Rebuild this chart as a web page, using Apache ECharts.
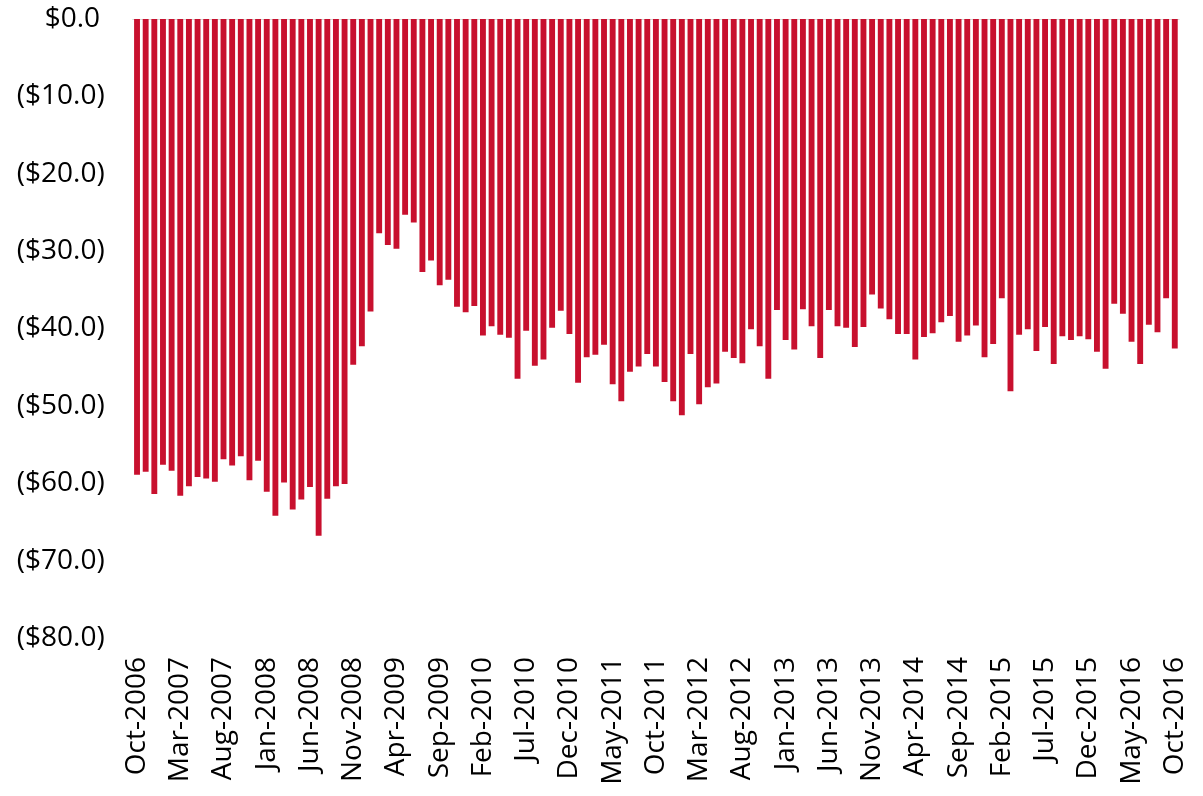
<!DOCTYPE html>
<html>
<head>
    <meta charset="utf-8">
    <title>Monthly balance</title>
    <script type="text/javascript" src="https://cdn.jsdelivr.net/npm/echarts@6/dist/echarts.min.js"></script>
    <style>
        html, body { margin: 0; padding: 0; background: #fff; }
    </style>
</head>
<body>
<div id="chart" style="width: 1203px; height: 796px;"></div>
<script type="text/javascript">
    // month names used to build the Oct-2006 .. Oct-2016 categories
    var monthNames = ['Jan', 'Feb', 'Mar', 'Apr', 'May', 'Jun', 'Jul', 'Aug', 'Sep', 'Oct', 'Nov', 'Dec'];
    var startYear = 2006, startMonth = 9, monthCount = 121;

    // values in $, Oct-2006 first
    var values = [
        -58.9, -58.5, -61.4, -57.6, -58.4, -61.6, -60.4, -59.2, -59.4, -59.8,
        -56.9, -57.7, -56.5, -59.6, -57.1, -61.1, -64.2, -59.9, -63.4, -62.1,
        -60.5, -66.8, -62.0, -60.4, -60.1, -44.7, -42.3, -37.8, -27.7, -29.2,
        -29.7, -25.3, -26.3, -32.7, -31.2, -34.4, -33.7, -37.2, -37.9, -37.1,
        -40.9, -39.7, -40.8, -41.2, -46.5, -40.3, -44.8, -44.0, -39.9, -37.7,
        -40.7, -47.0, -43.7, -43.4, -42.1, -47.2, -49.4, -45.6, -44.9, -43.3,
        -44.9, -46.9, -49.4, -51.2, -43.3, -49.8, -47.6, -47.1, -43.0, -43.8,
        -44.5, -40.1, -42.3, -46.5, -37.6, -41.5, -42.7, -37.5, -39.7, -43.8,
        -37.6, -39.7, -39.9, -42.4, -39.8, -35.6, -37.4, -38.8, -40.7, -40.7,
        -44.0, -41.1, -40.6, -39.2, -38.4, -41.7, -40.9, -39.6, -43.7, -42.0,
        -36.1, -48.1, -40.8, -40.1, -42.9, -39.8, -44.6, -41.0, -41.5, -41.0,
        -41.4, -43.0, -45.2, -36.8, -38.1, -41.7, -44.6, -39.5, -40.5, -36.1,
        -42.6
    ];

    var categories = [];
    for (var i = 0; i < monthCount; i++) {
        var m = (startMonth + i) % 12;
        var y = startYear + Math.floor((startMonth + i) / 12);
        categories.push(monthNames[m] + '-' + y);
    }

    var chart = echarts.init(document.getElementById('chart'));
    var font = '"Open Sans", "Noto Sans", sans-serif';

    var option = {
        animation: false,
        grid: {
            left: 132.7,
            right: 23.9,
            top: 19,
            height: 619
        },
        xAxis: [{
            type: 'category',
            data: categories,
            axisLine: { show: false, onZero: false },
            axisTick: { show: false },
            splitLine: { show: false },
            axisLabel: {
                interval: 4,
                rotate: 90,
                margin: 19,
                color: '#000',
                fontFamily: font,
                fontSize: 28,
                padding: [0, 0, 4, 0]
            }
        }, {
            type: 'category',
            position: 'top',
            data: categories,
            axisLine: { show: true, onZero: false, lineStyle: { color: '#d9d9d9', width: 1 } },
            axisTick: { show: false },
            axisLabel: { show: false }
        }],
        yAxis: {
            type: 'value',
            min: -80,
            max: 0,
            interval: 10,
            axisLine: { show: false },
            axisTick: { show: false },
            splitLine: { show: false },
            axisLabel: {
                margin: 28,
                color: '#000',
                fontFamily: font,
                fontSize: 28,
                padding: [12, 0, 0, 0],
                formatter: function (v) {
                    if (v === 0) {
                        return '$0.0\u2009';
                    }
                    return '($' + Math.abs(v).toFixed(1) + ')';
                }
            }
        },
        series: [{
            type: 'bar',
            data: values,
            barCategoryGap: '32%',
            itemStyle: { color: '#c8102e' }
        }]
    };
    chart.setOption(option);
</script>
</body>
</html>
